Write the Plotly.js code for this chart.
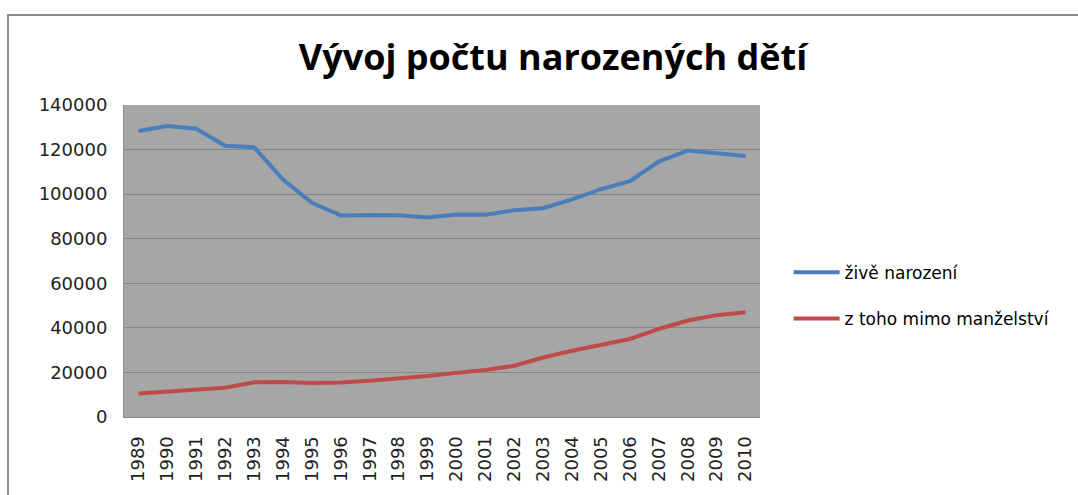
<!DOCTYPE html>
<html>
<head>
<meta charset="utf-8">
<script src="https://cdn.plot.ly/plotly-3.0.1.min.js"></script>
<style>
html,body{margin:0;padding:0;background:#fff;overflow:hidden;}
#wrap{position:relative;width:1078px;height:495px;overflow:hidden;}
#frame{position:absolute;left:7px;top:14px;width:2000px;height:1000px;border-left:2px solid #8c8c8c;border-top:2px solid #8c8c8c;pointer-events:none;z-index:5;}
#chart{position:absolute;left:0;top:0;width:1078px;height:495px;}
</style>
</head>
<body>
<div id="wrap"><div id="chart"></div><div id="frame"></div></div>
<script>
const years = ['1989','1990','1991','1992','1993','1994','1995','1996','1997','1998','1999','2000','2001','2002','2003','2004','2005','2006','2007','2008','2009','2010'];
const liveBirths = [128356,130564,129354,121705,121025,106579,96097,90446,90657,90535,89471,90910,90715,92786,93685,97664,102211,105831,114632,119570,118348,117153];
const outsideMarriage = [10500,11400,12600,13100,15600,15700,15300,15500,16300,17200,18400,19800,21100,23000,26700,29700,32500,35000,39500,43300,45700,47000];
const seriesNames = ['živě narození','z toho mimo manželství'];
const titleText = 'Vývoj počtu narozených dětí';

const traces = [
  {x: years, y: liveBirths, name: seriesNames[0], type: 'scatter', mode: 'lines',
   line: {color: '#4A7EBB', width: 4}, legendgroup: 'a'},
  {x: years, y: outsideMarriage, name: seriesNames[1], type: 'scatter', mode: 'lines',
   line: {color: '#BE4B48', width: 4}, legendgroup: 'b'}
];

const layout = {
  width: 1078, height: 495,
  margin: {l: 124, r: 318, t: 105, b: 78},
  paper_bgcolor: 'rgba(0,0,0,0)',
  plot_bgcolor: '#A6A6A6',
  title: {text: titleText, x: 0.513, xanchor: 'center', y: 0.885, yanchor: 'middle',
          font: {family: '"Open Sans", "Liberation Sans", Arial, sans-serif', size: 36, color: '#000', weight: 'bold'}},
  xaxis: {type: 'category', range: [-0.5, 21.5], tickangle: -90, showgrid: false,
          showline: true, linecolor: '#868686', linewidth: 1, ticks: '', ticklabelstandoff: 11,
          tickfont: {family: '"DejaVu Sans", sans-serif', size: 18, color: '#222'}},
  yaxis: {range: [0, 140000], dtick: 20000, tickformat: 'd', showgrid: true, gridcolor: '#868686', gridwidth: 1,
          showline: true, linecolor: '#8e8e8e', linewidth: 1, ticks: '', zeroline: false, ticklabelstandoff: 12,
          tickfont: {family: '"DejaVu Sans", sans-serif', size: 18, color: '#222'}},
  showlegend: true,
  legend: {x: 1.045, xanchor: 'left', y: 0.52, yanchor: 'top', traceorder: 'grouped', tracegroupgap: 21,
           itemwidth: 46,
           bgcolor: 'rgba(0,0,0,0)', font: {family: '"DejaVu Sans", sans-serif', size: 17, color: '#000'}}
};

Plotly.newPlot('chart', traces, layout, {displayModeBar: false, staticPlot: true});
</script>
</body>
</html>
